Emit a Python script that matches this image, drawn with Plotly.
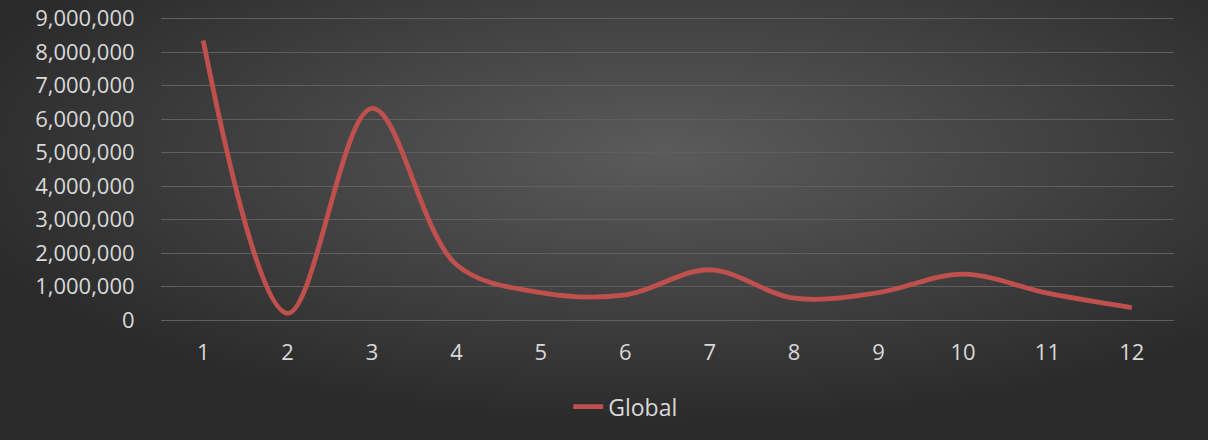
import base64
import plotly.graph_objects as go

categories = ["1", "2", "3", "4", "5", "6", "7", "8", "9", "10", "11", "12"]
global_values = [8350000, 200000, 6320000, 1650000, 820000, 750000, 1500000, 650000, 820000, 1370000, 800000, 370000]
y_ticks = [0, 1000000, 2000000, 3000000, 4000000, 5000000, 6000000, 7000000, 8000000, 9000000]
series_name = "Global"

W, H = 1208, 440
svg = f'''<svg xmlns="http://www.w3.org/2000/svg" width="{W}" height="{H}" viewBox="0 0 {W} {H}" preserveAspectRatio="none">
<defs><radialGradient id="g" cx="0.55" cy="0.35" r="0.62" gradientUnits="objectBoundingBox">
<stop offset="0" stop-color="#5b5b5b"/><stop offset="1" stop-color="#2a2a2a"/></radialGradient></defs>
<rect width="{W}" height="{H}" fill="url(#g)"/></svg>'''
src = "data:image/svg+xml;base64," + base64.b64encode(svg.encode()).decode()

ml, mr, mt, mb = 161, 34, 17, 120
pw = W - ml - mr
ph = H - mt - mb

fig = go.Figure()
fig.add_trace(go.Scatter(
    x=categories, y=global_values, mode="lines", name=series_name,
    line=dict(color="#c0504d", width=4.8, shape="spline", smoothing=1.0),
))

fig.add_layout_image(dict(
    source=src, xref="paper", yref="paper",
    x=-ml / pw, y=1 + mt / ph, sizex=W / pw, sizey=H / ph,
    xanchor="left", yanchor="top", sizing="stretch", layer="below",
))

font = dict(family="Open Sans", size=22, color="#d9d9d9")
fig.update_layout(
    width=W, height=H,
    margin=dict(l=ml, r=mr, t=mt, b=mb, autoexpand=False),
    paper_bgcolor="#333333", plot_bgcolor="rgba(0,0,0,0)",
    font=font,
    showlegend=True,
    legend=dict(orientation="h", x=0.402, xanchor="left", y=-0.215, yanchor="top",
                font=dict(family="Open Sans", size=23, color="#d9d9d9"),
                bgcolor="rgba(0,0,0,0)"),
    xaxis=dict(type="category", showgrid=False, zeroline=False, showline=False,
               ticks="outside", ticklen=13, tickcolor="rgba(0,0,0,0)",
               tickfont=font, range=[-0.5, 11.5], automargin=False),
    yaxis=dict(range=[0, 9050000], tickvals=y_ticks, tickformat=",d",
               showgrid=True, gridcolor="#5f5f5f", gridwidth=1.3,
               zeroline=True, zerolinecolor="#5f5f5f", zerolinewidth=1.3,
               showline=False, ticks="outside", ticklen=21,
               tickcolor="rgba(0,0,0,0)", tickfont=font, automargin=False),
)

fig.write_html("out.html", config={"displayModeBar": False},
               post_script="document.body.style.margin='0';document.body.style.overflow='hidden';")
